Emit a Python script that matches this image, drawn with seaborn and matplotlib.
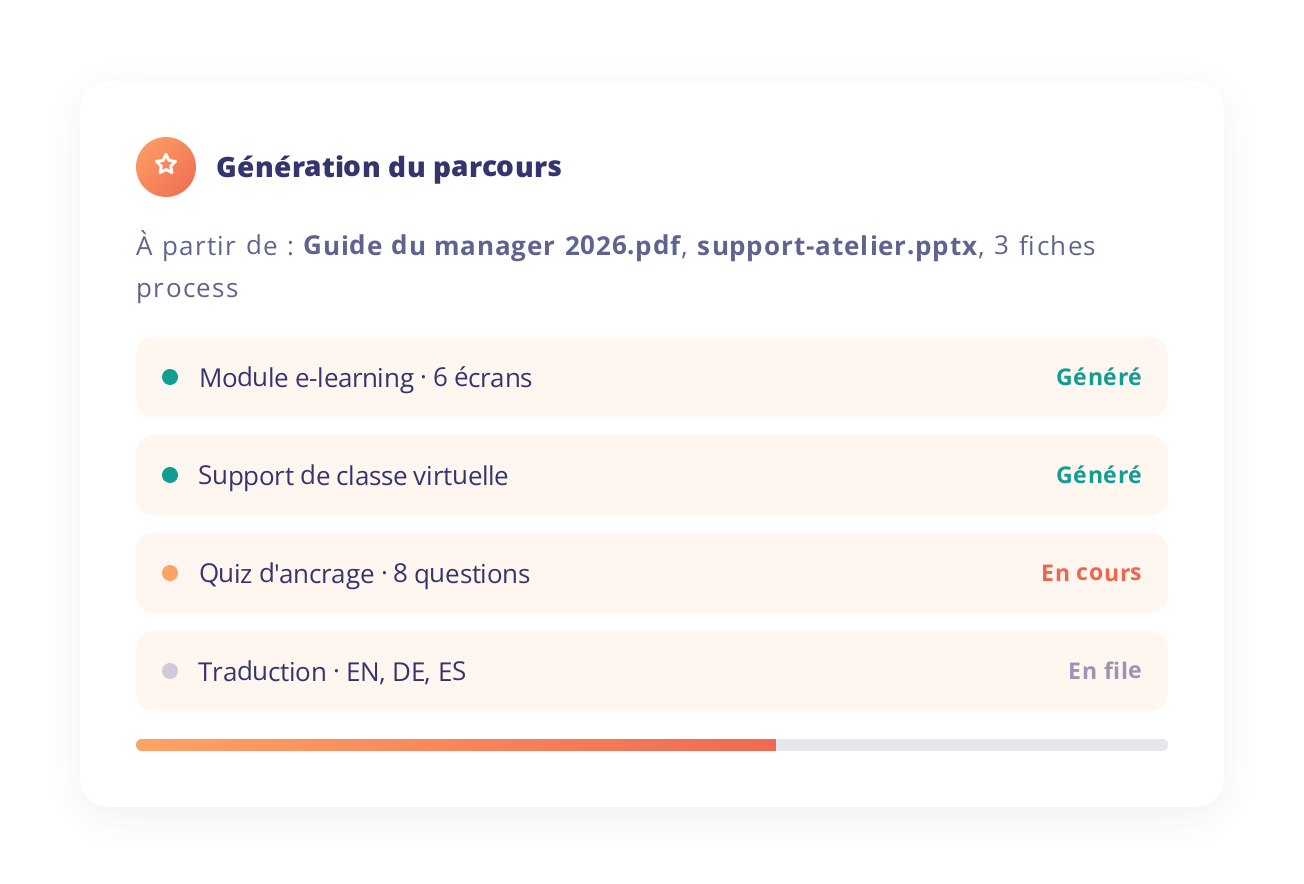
import numpy as np
import pandas as pd
import matplotlib
matplotlib.use("Agg")
import matplotlib.pyplot as plt
from matplotlib.patches import FancyBboxPatch
from matplotlib.path import Path
from matplotlib.font_manager import FontProperties
from matplotlib.colors import to_rgb
import seaborn as sns

# ---- content ----
title = "Génération du parcours"
intro_line1 = [("À partir de : ", 400), ("Guide du manager 2026.pdf", 700), (", ", 400),
               ("support-atelier.pptx", 700), (", 3 fiches", 400)]
intro_line2 = [("process", 400)]
row_labels = ["Module e-learning · 6 écrans", "Support de classe virtuelle",
              "Quiz d'ancrage · 8 questions", "Traduction · EN, DE, ES"]
row_status = ["Généré", "Généré", "En cours", "En file"]
dot_colors = ["#0F9D94", "#0F9D94", "#FFA366", "#CFCBD8"]
status_colors = ["#0F9D94", "#0F9D94", "#F0654F", "#9C95B2"]
progress_value = [62]
progress_total = [100]

W, H = 1304, 884
FONT = "Open Sans"
px = 0.72
sns.set_theme(style="white")
plt.rcParams["font.family"] = [FONT, "DejaVu Sans"]
plt.rcParams["text.hinting"] = "none"
plt.rcParams["text.hinting_factor"] = 1

fig = plt.figure(figsize=(W / 100, H / 100), dpi=100, facecolor="white")
ax = fig.add_axes([0, 0, 1, 1])
ax.set_xlim(0, W); ax.set_ylim(H, 0); ax.axis("off")


def rrect_sdf(x0, y0, x1, y1, r, X, Y):
    cx, cy = (x0 + x1) / 2, (y0 + y1) / 2
    qx = np.abs(X - cx) - ((x1 - x0) / 2 - r)
    qy = np.abs(Y - cy) - ((y1 - y0) / 2 - r)
    return np.hypot(np.maximum(qx, 0), np.maximum(qy, 0)) + np.minimum(np.maximum(qx, qy), 0) - r


def grid(x0, y0, x1, y1):
    xs = np.arange(int(x0), int(x1)) + 0.5
    ys = np.arange(int(y0), int(y1)) + 0.5
    return np.meshgrid(xs, ys)


def round_box(x0, y0, x1, y1, r, color, z):
    ax.add_patch(FancyBboxPatch((x0, y0), x1 - x0, y1 - y0, boxstyle=f"round,pad=0,rounding_size={r}",
                                fc=color, ec="none", lw=0, zorder=z))


# ---- card shadow ----
X, Y = grid(0, 0, W, H)
mask = (rrect_sdf(80, 81 + 10, 1224, 807 + 10, 32, X, Y) < 0).astype(float)
sigma = 20.0
fx = np.fft.fftfreq(W)[None, :]
fy = np.fft.fftfreq(H)[:, None]
blur = np.fft.ifft2(np.fft.fft2(mask) * np.exp(-2 * (np.pi * sigma) ** 2 * (fx ** 2 + fy ** 2))).real
sh = np.zeros((H, W, 4))
sh[..., :3] = to_rgb("#32326E")
sh[..., 3] = np.clip(blur, 0, 1) * 0.07
ax.imshow(sh, extent=(0, W, H, 0), interpolation="nearest", aspect="auto", zorder=1)
ax.set_xlim(0, W); ax.set_ylim(H, 0)

round_box(80, 81, 1224, 807, 32, "white", 2)


def gradient_shape(x0, y0, x1, y1, r, c0, c1, angle, zorder=3):
    """Antialiased gradient rounded rectangle."""
    gx0, gy0, gx1, gy1 = int(np.floor(x0)), int(np.floor(y0)), int(np.ceil(x1)), int(np.ceil(y1))
    GX, GY = grid(gx0, gy0, gx1, gy1)
    a = np.clip(0.5 - rrect_sdf(x0, y0, x1, y1, r, GX, GY), 0, 1)
    if angle == 0:
        t = (GX - x0) / (x1 - x0)
    else:
        t = ((GX - x0) / (x1 - x0) + (GY - y0) / (y1 - y0)) / 2
    t = np.clip(t, 0, 1)[..., None]
    img = np.zeros(a.shape + (4,))
    img[..., :3] = np.array(to_rgb(c0)) * (1 - t) + np.array(to_rgb(c1)) * t
    img[..., 3] = a
    ax.imshow(img, extent=(gx0, gx1, gy1, gy0), interpolation="nearest", aspect="auto", zorder=zorder)
    ax.set_xlim(0, W); ax.set_ylim(H, 0)


# ---- header icon ----
gradient_shape(136, 137, 196, 197, 30, "#FFA366", "#EF6A52", 45)
star = Path.unit_regular_star(5, innerCircle=0.5)
ax.scatter([166], [164.5], s=(2 * 10 * px) ** 2, marker=star, facecolor="none",
           edgecolor="white", linewidth=3.0 * px, zorder=4, joinstyle="round")

renderer = fig.canvas.get_renderer()


def measure(s, size, weight):
    prop = FontProperties(family=FONT, size=size * px, weight=weight)
    w, _, _ = renderer.get_text_width_height_descent(s + "|", prop, False)
    w0, _, _ = renderer.get_text_width_height_descent("|", prop, False)
    return w - w0


def spaced(x, y, runs, size, spacing, color, target=None):
    """Text drawn letter by letter; spacing may be a number or a {weight: number} map."""
    for s, weight in runs:
        sp = spacing[weight] if isinstance(spacing, dict) else spacing
        for i, ch in enumerate(s):
            xi = x + measure(s[:i], size, weight) + i * sp if i else x
            if ch != " ":
                (target or ax).text(xi, y, ch, fontsize=size * px, fontweight=weight, color=color,
                                    ha="left", va="baseline", family=FONT, zorder=5,
                                    transform=ax.transData)
        x += measure(s, size, weight) + len(s) * sp


spaced(216, 177, [(title, 800)], 28, 0.19, "#34356F")
INTRO_SP = {400: 1.3, 700: 0.93}
spaced(136, 255, intro_line1, 26, INTRO_SP, "#5F6390")
spaced(136, 297, intro_line2, 26, INTRO_SP, "#5F6390")

# ---- rows ----
row_ax = fig.add_axes([0, 0, 1, 1], facecolor="none")
row_ax.set_xlim(0, W)
row_ax.set_ylim((H - 377) / 98, -377 / 98)
row_ax.axis("off")
row_ax.set_zorder(3)
rows = pd.DataFrame({"label": row_labels, "status": row_status, "i": range(len(row_labels)),
                     "dot_x": 170})
for i in rows["i"]:
    top = 337 + 98 * i
    round_box(136, top, 1168, top + 80, 20, "#FFF6EF", 3)
sns.scatterplot(data=rows, x="dot_x", y="i", hue="label", palette=dict(zip(row_labels, dot_colors)),
                s=(16 * px) ** 2, linewidth=0, legend=False, ax=row_ax, zorder=5)
row_ax.axis("off")
STATUS_SIZE, STATUS_SP = 23, 0.55
for i, (lab, st, c) in enumerate(zip(row_labels, row_status, status_colors)):
    base = 377 + 98 * i
    spaced(198, base + 10, [(lab, 400)], 26, -0.32, "#34356F", target=row_ax)
    w = measure(st, STATUS_SIZE, 700) + len(st) * STATUS_SP
    spaced(1142 - w, base + 8, [(st, 700)], STATUS_SIZE, STATUS_SP, c, target=row_ax)

# ---- progress bar ----
bar_ax = fig.add_axes([136 / W, 1 - 751 / H, 1032 / W, 12 / H], facecolor="none")
bar_ax.set_zorder(4)
sns.barplot(x=progress_total, y=["p"], orient="h", width=1, color="#E6E7EE", ax=bar_ax, saturation=1)
sns.barplot(x=progress_value, y=["p"], orient="h", width=1, color="#EF6A52", ax=bar_ax, saturation=1)
bar_ax.set_xlim(0, progress_total[0])
bar_ax.set_ylim(0.5, -0.5)
bar_ax.axis("off")
track, fill = bar_ax.patches[0], bar_ax.patches[1]
track.set_visible(False); fill.set_visible(False)
x_end = bar_ax.transData.transform((fill.get_width(), 0))[0]
round_box(136, 739, 1168, 751, 6, "#E6E7EE", 3)
gradient_shape(136, 739, x_end + 6, 751, 6, "#FFA366", "#EF6A52", 0, zorder=3.5)
# square right end of the filled part
GX0 = int(round(x_end))
img = np.zeros((12, 6, 4)); img[..., :3] = to_rgb("#E6E7EE"); img[..., 3] = 1
ax.imshow(img, extent=(GX0, GX0 + 6, 751, 739), interpolation="nearest", aspect="auto", zorder=3.6)
ax.set_xlim(0, W); ax.set_ylim(H, 0)

fig.savefig("out.png", dpi=100, facecolor="white")
